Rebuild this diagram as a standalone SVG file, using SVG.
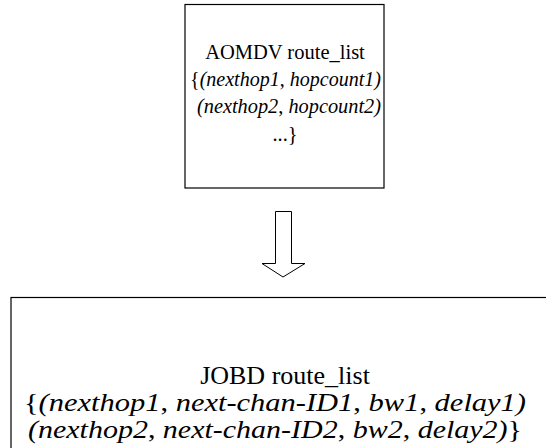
<svg xmlns="http://www.w3.org/2000/svg" width="546" height="448" viewBox="0 0 546 448">
<style>
.box{fill:#fff;stroke:#000;stroke-width:1.2}
text{font-family:'Liberation Serif','Times New Roman','DejaVu Serif',serif;fill:#000;text-anchor:middle}
.s{font-size:20.5px}
.s2{font-size:20px}
.b{font-size:26px}
.b2{font-size:25px}
.i{font-style:italic}
.arrow{fill:#fff;stroke:#000;stroke-width:1}
</style>
<rect width="546" height="448" fill="#fff"/>
<g id="aomdv">
<rect class="box" x="185" y="4.5" width="199" height="183.5"/>
<text class="s" x="285" y="59">AOMDV route_list</text>
<text class="s2" x="285.5" y="86" textLength="191" lengthAdjust="spacingAndGlyphs">{<tspan class="i">(nexthop1</tspan>, <tspan class="i">hopcount1)</tspan></text>
<text class="s2" x="289" y="113" textLength="184" lengthAdjust="spacingAndGlyphs"><tspan class="i">(nexthop2</tspan>, <tspan class="i">hopcount2)</tspan></text>
<text class="s" x="285" y="141">...}</text>
</g>
<g id="connectors">
<path class="arrow" d="M275.5,211.5 H291.5 V263.5 H305 L283,277 L262,263.5 H275.5 Z"/>
</g>
<g id="jobd">
<rect class="box" x="11" y="297.5" width="545" height="160"/>
<text class="b" x="285" y="384">JOBD route_list</text>
<text class="b2" x="275" y="411" textLength="502" lengthAdjust="spacingAndGlyphs">{<tspan class="i">(nexthop1</tspan>, <tspan class="i">next-chan-ID1</tspan>, <tspan class="i">bw1</tspan>, <tspan class="i">delay1)</tspan></text>
<text class="b2" x="275" y="438" textLength="494" lengthAdjust="spacingAndGlyphs"><tspan class="i">(nexthop2</tspan>, <tspan class="i">next-chan-ID2</tspan>, <tspan class="i">bw2</tspan>, <tspan class="i">delay2)</tspan>}</text>
</g>
</svg>
